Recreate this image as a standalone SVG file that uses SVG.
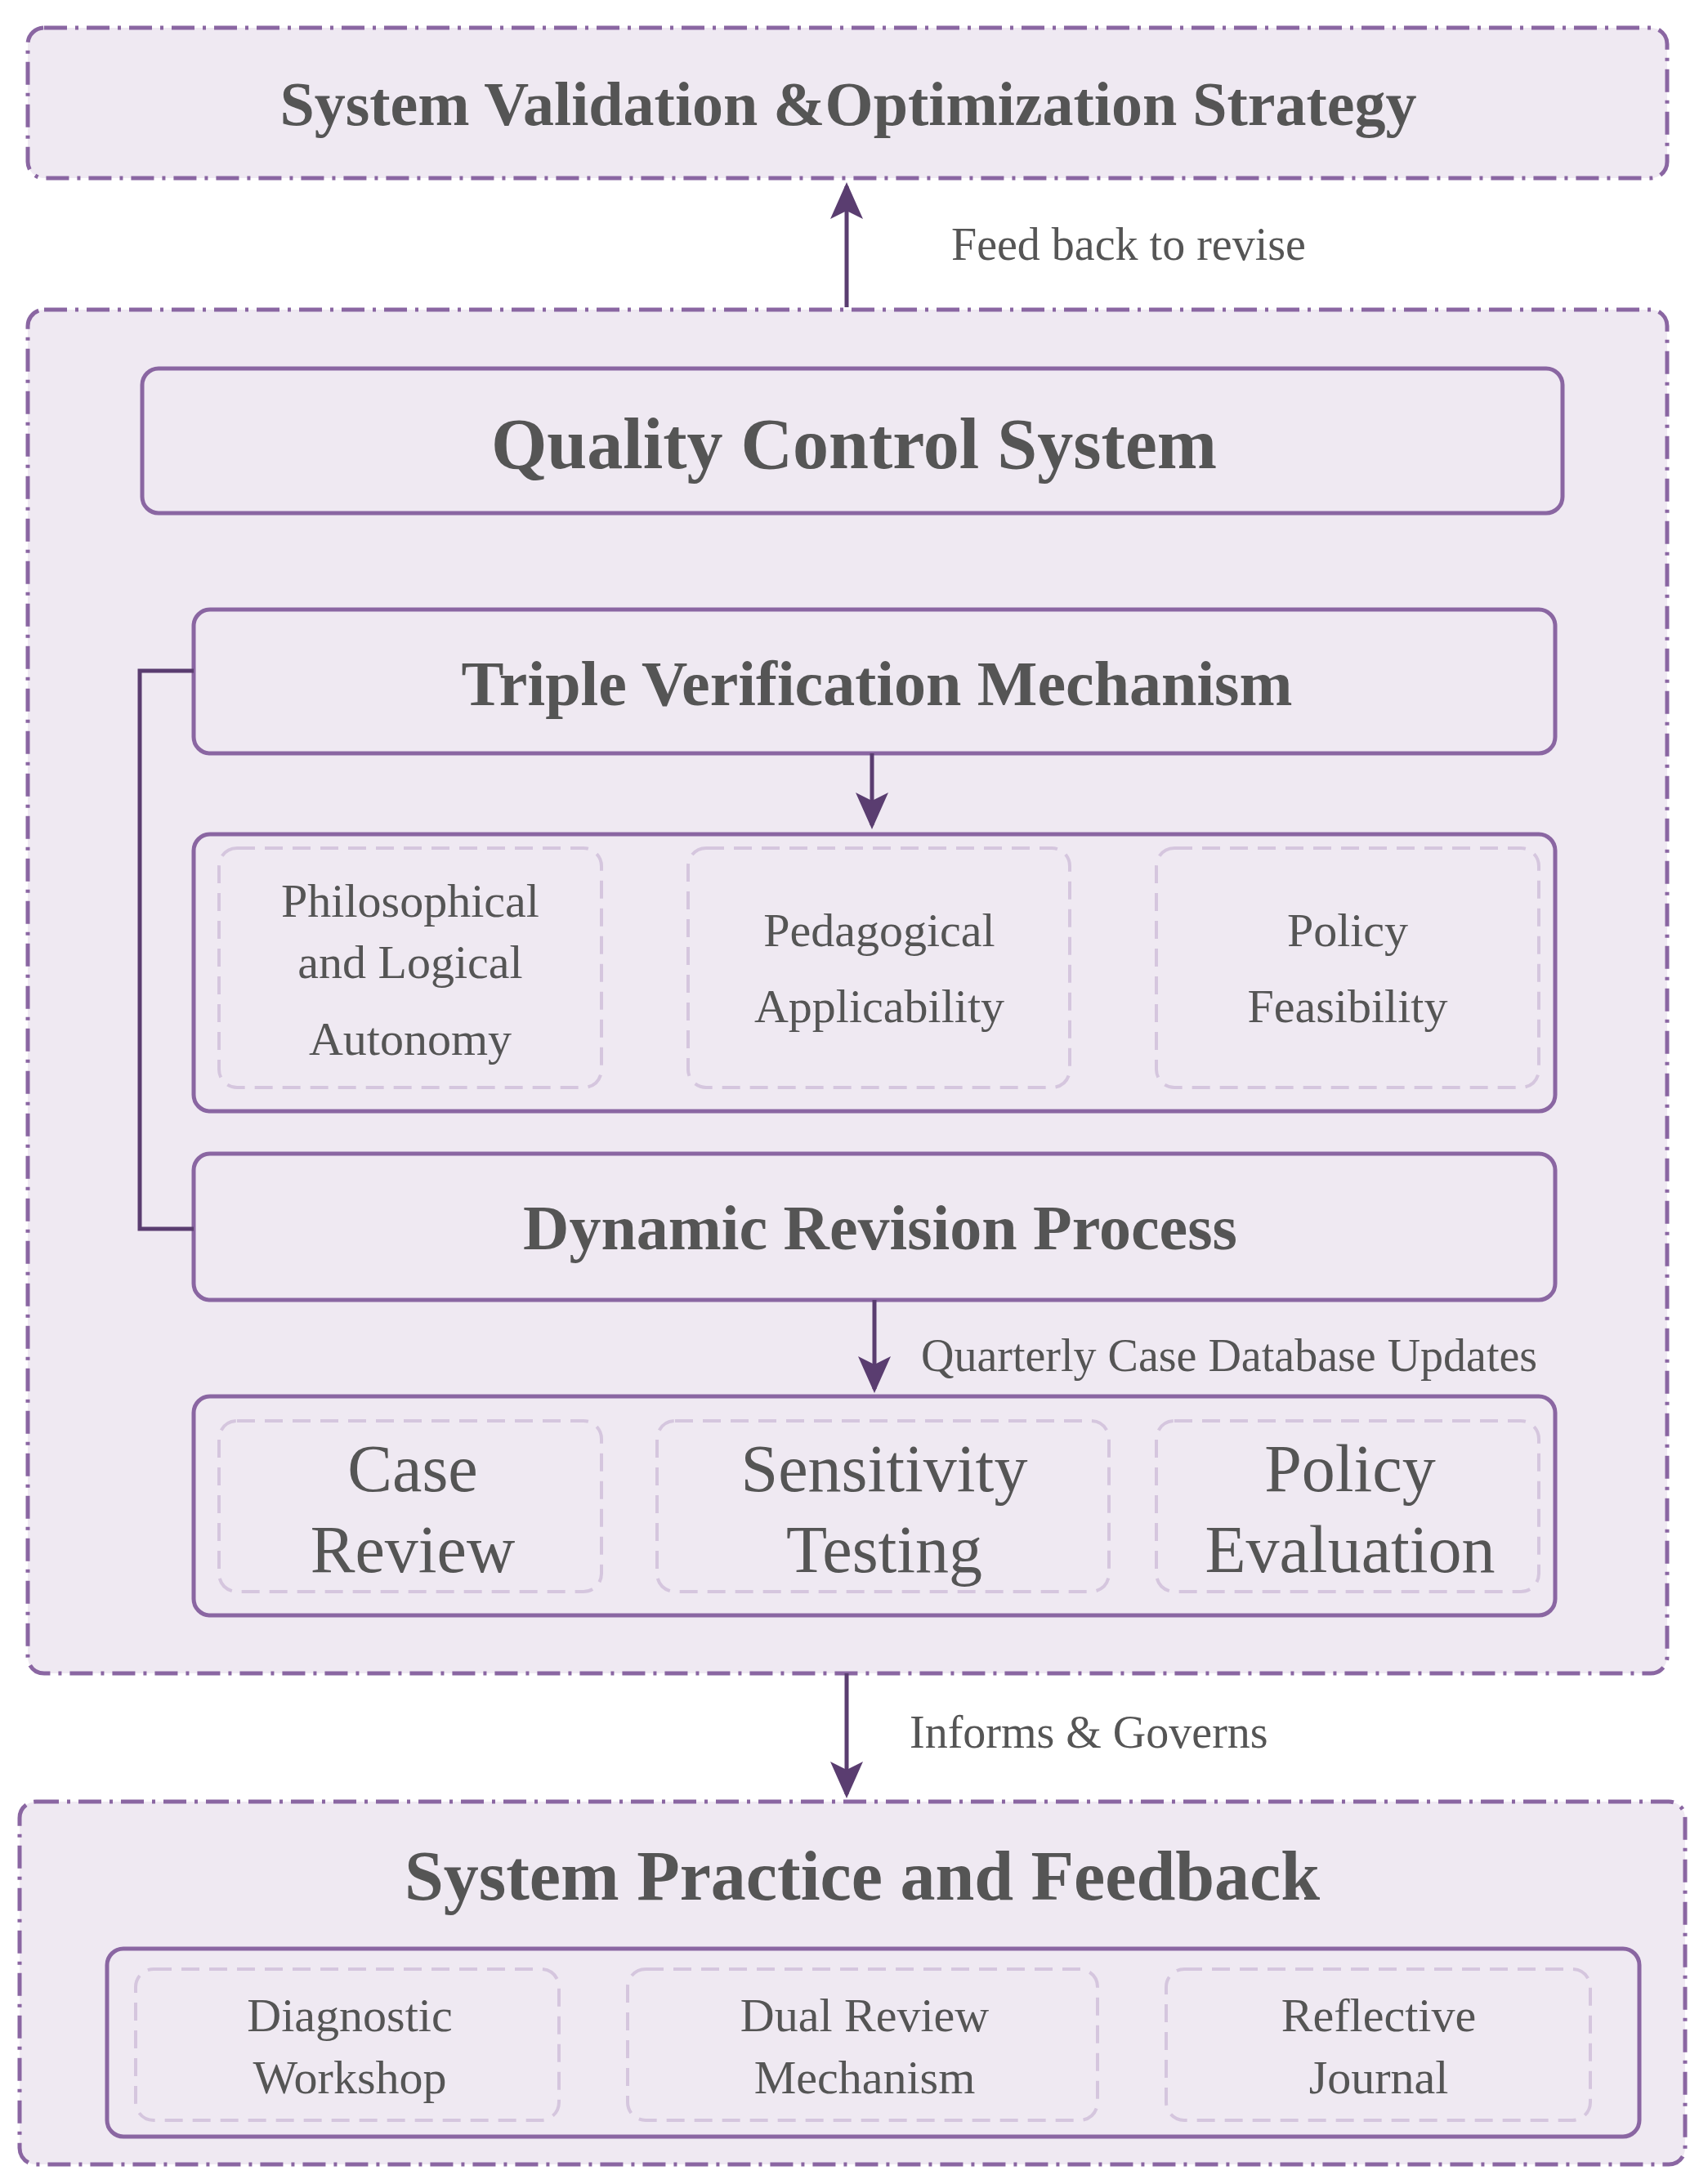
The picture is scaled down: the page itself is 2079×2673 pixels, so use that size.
<svg xmlns="http://www.w3.org/2000/svg" width="2079" height="2673" viewBox="0 0 2079 2673">
<style>
.outer{fill:#efe9f2;stroke:#8a66a2;stroke-width:5;stroke-dasharray:28 10 4 10}
.solid{fill:#efe9f2;stroke:#8a66a2;stroke-width:5}
.dash{fill:none;stroke:#d5c6de;stroke-width:4;stroke-dasharray:22 12}
.t{font-family:"Liberation Serif",serif;fill:#555555;text-anchor:middle}
.b{font-weight:bold}
.conn{stroke:#5a3d70;stroke-width:5;fill:none}
.lbl{font-family:"Liberation Serif",serif;fill:#555555;font-size:56px}
</style>
<defs><marker id="ah" markerWidth="10" markerHeight="10" refX="8" refY="5" orient="auto" markerUnits="strokeWidth"><path d="M0,1 L9,5 L0,9 L2,5 z" fill="#5a3d70"/></marker></defs>
<rect width="2079" height="2673" fill="#ffffff"/>
<g id="validation"><rect class="outer" x="34" y="34" width="2006" height="184" rx="20"/>
<text class="t b" x="1038" y="153" font-size="76">System Validation &amp;Optimization Strategy</text></g>
<g id="qc-container"><rect class="outer" x="34" y="379" width="2006" height="1669" rx="20"/></g>
<g id="practice"><rect class="outer" x="24" y="2205" width="2038" height="444" rx="20"/>
<text class="t b" x="1055" y="2325" font-size="86">System Practice and Feedback</text></g>
<g id="qcs"><rect class="solid" x="174" y="451" width="1738" height="177" rx="20"/>
<text class="t b" x="1045" y="573" font-size="88">Quality Control System</text></g>
<g id="triple"><rect class="solid" x="237" y="746" width="1666" height="176" rx="20"/>
<text class="t b" x="1073" y="863" font-size="78">Triple Verification Mechanism</text></g>
<g id="criteria"><rect class="solid" x="237" y="1021" width="1666" height="339" rx="20"/>
<rect class="dash" x="268" y="1038" width="468" height="293" rx="22"/>
<rect class="dash" x="842" y="1038" width="467" height="293" rx="22"/>
<rect class="dash" x="1415" y="1038" width="468" height="293" rx="22"/>
<text class="t" font-size="58" x="502" y="1122">Philosophical</text>
<text class="t" font-size="58" x="502" y="1197">and Logical</text>
<text class="t" font-size="58" x="502" y="1291">Autonomy</text>
<text class="t" font-size="58" x="1076" y="1158">Pedagogical</text>
<text class="t" font-size="58" x="1076" y="1251">Applicability</text>
<text class="t" font-size="58" x="1649" y="1158">Policy</text>
<text class="t" font-size="58" x="1649" y="1251">Feasibility</text></g>
<g id="dynamic"><rect class="solid" x="237" y="1412" width="1666" height="179" rx="20"/>
<text class="t b" x="1077" y="1529" font-size="78">Dynamic Revision Process</text></g>
<g id="reviews"><rect class="solid" x="237" y="1709" width="1666" height="268" rx="20"/>
<rect class="dash" x="268" y="1739" width="468" height="209" rx="22"/>
<rect class="dash" x="804" y="1739" width="553" height="209" rx="22"/>
<rect class="dash" x="1415" y="1739" width="468" height="209" rx="22"/>
<text class="t" font-size="82" x="505" y="1825">Case</text>
<text class="t" font-size="82" x="505" y="1924">Review</text>
<text class="t" font-size="82" x="1082" y="1825">Sensitivity</text>
<text class="t" font-size="82" x="1082" y="1924">Testing</text>
<text class="t" font-size="82" x="1652" y="1825">Policy</text>
<text class="t" font-size="82" x="1652" y="1924">Evaluation</text></g>
<g id="practices"><rect class="solid" x="131" y="2385" width="1875" height="230" rx="20"/>
<rect class="dash" x="166" y="2410" width="518" height="185" rx="22"/>
<rect class="dash" x="768" y="2410" width="575" height="185" rx="22"/>
<rect class="dash" x="1427" y="2410" width="519" height="185" rx="22"/>
<text class="t" font-size="58" x="428" y="2486">Diagnostic</text>
<text class="t" font-size="58" x="428" y="2562">Workshop</text>
<text class="t" font-size="58" x="1058" y="2486">Dual Review</text>
<text class="t" font-size="58" x="1058" y="2562">Mechanism</text>
<text class="t" font-size="58" x="1687" y="2486">Reflective</text>
<text class="t" font-size="58" x="1687" y="2562">Journal</text></g>
<g id="connectors">
<line class="conn" x1="1036" y1="376" x2="1036" y2="228" marker-end="url(#ah)"/>
<text class="lbl" x="1164" y="318">Feed back to revise</text>
<line class="conn" x1="1067" y1="922" x2="1067" y2="1010" marker-end="url(#ah)"/>
<polyline class="conn" points="237,821 171,821 171,1504 237,1504"/>
<line class="conn" x1="1070" y1="1591" x2="1070" y2="1700" marker-end="url(#ah)"/>
<text class="lbl" x="1127" y="1678">Quarterly Case Database Updates</text>
<line class="conn" x1="1036" y1="2048" x2="1036" y2="2196" marker-end="url(#ah)"/>
<text class="lbl" x="1113" y="2139">Informs &amp; Governs</text>
</g>
</svg>
